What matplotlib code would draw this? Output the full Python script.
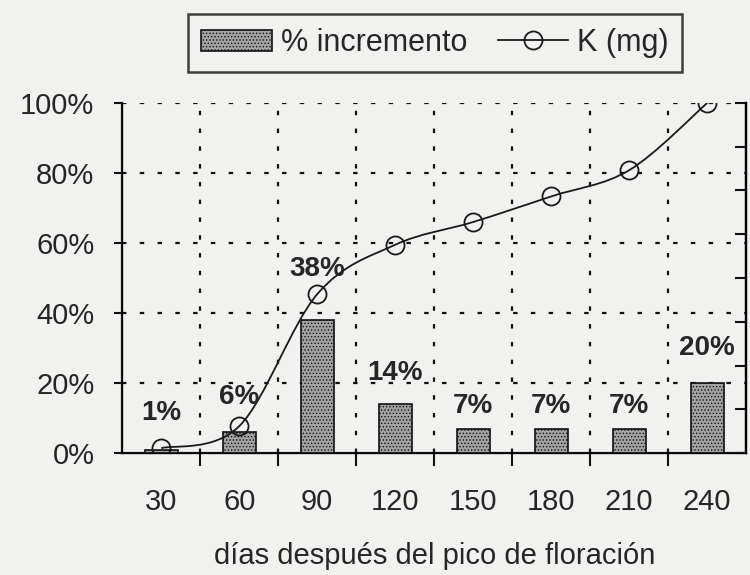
import numpy as np
import matplotlib.pyplot as plt
from matplotlib.path import Path
from matplotlib.patches import PathPatch
from matplotlib.lines import Line2D
from matplotlib.patches import Patch

plt.rcParams['font.family'] = ['Liberation Sans', 'DejaVu Sans']
plt.rcParams['hatch.color'] = '#5a5a5a'
plt.rcParams['hatch.linewidth'] = 0.6

dias = ['30', '60', '90', '120', '150', '180', '210', '240']
incremento = [1, 6, 38, 14, 7, 7, 7, 20]
k_mg = [1.4, 7.7, 45.4, 59.5, 66.0, 73.3, 80.8, 100.0]
bar_labels = ['1%', '6%', '38%', '14%', '7%', '7%', '7%', '20%']
label_dy = [10.5, 10, 14.5, 9, 6.5, 6.5, 6.5, 10]

bg = '#f1f1ef'
ink = '#262626'

fig = plt.figure(figsize=(7.5, 5.75), dpi=100, facecolor=bg)
ax = fig.add_axes([0.163, 0.212, 0.832, 0.609], facecolor=bg)

x = np.arange(len(dias))
ax.bar(x, incremento, width=0.42, color='#a3a3a3', edgecolor='#111111',
       linewidth=1.2, hatch='.....', zorder=3)

# smoothed line (bezier through the points, like the spreadsheet's smooth line)
px = np.concatenate([[x[0]], x, [x[-1]]]).astype(float)
py = np.concatenate([[k_mg[0]], k_mg, [k_mg[-1]]])
verts = [(x[0], k_mg[0])]
codes = [Path.MOVETO]
for i in range(1, len(px) - 2):
    c1 = (px[i] + (px[i + 1] - px[i - 1]) / 6, py[i] + (py[i + 1] - py[i - 1]) / 6)
    c2 = (px[i + 1] - (px[i + 2] - px[i]) / 6, py[i + 1] - (py[i + 2] - py[i]) / 6)
    verts += [c1, c2, (px[i + 1], py[i + 1])]
    codes += [Path.CURVE4] * 3
ax.add_patch(PathPatch(Path(verts, codes), facecolor='none', edgecolor='#1a1a1a',
                       linewidth=1.3, zorder=4))
ax.plot(x, k_mg, linestyle='none', marker='o', markersize=13, markerfacecolor='none',
        markeredgecolor='#1a1a1a', markeredgewidth=1.3, zorder=5)

for xi, v, lab, dy in zip(x, incremento, bar_labels, label_dy):
    ax.text(xi, v + dy, lab, ha='center', va='center', fontsize=20,
            fontweight='bold', color=ink, zorder=6)

ax.set_xlim(-0.5, len(dias) - 0.5)
ax.set_ylim(0, 100)
ax.set_yticks(range(0, 101, 20))
ax.set_yticklabels([f'{v}%' for v in range(0, 101, 20)])
ax.set_xticks(x)
ax.set_xticklabels(dias)
ax.set_xticks(x[:-1] + 0.5, minor=True)

ax.tick_params(axis='x', which='major', length=0, pad=25, labelsize=21, labelcolor=ink)
ax.tick_params(axis='x', which='minor', length=9, width=1.5, direction='out', color='#111111')
ax.tick_params(axis='y', length=6, width=1.5, direction='out', pad=14, labelsize=21,
               labelcolor=ink, color='#111111')

# dotted grid
for gx in x[:-1] + 0.5:
    ax.axvline(gx, color='#111111', linestyle=(0, (2, 6)), linewidth=1.6, zorder=1)
for gy in range(20, 101, 20):
    ax.axhline(gy, color='#111111', linestyle=(0, (2, 6)), linewidth=1.6, zorder=1)

ax.spines['top'].set_visible(False)
for s in ['left', 'bottom', 'right']:
    ax.spines[s].set_linewidth(1.6)
    ax.spines[s].set_color('#111111')

ax2 = ax.twinx()
ax2.set_ylim(0, 8)
ax2.set_yticks(range(0, 9))
ax2.tick_params(axis='y', direction='in', length=8, width=1.5, labelright=False, color='#111111')
ax2.spines['top'].set_visible(False)
ax2.spines['right'].set_linewidth(1.6)

ax.set_xlabel('días después del pico de floración', fontsize=21, color=ink, labelpad=19)

handles = [Patch(facecolor='#a3a3a3', edgecolor='#111111', hatch='.....', linewidth=1.2),
           Line2D([], [], color='#1a1a1a', linewidth=1.3, marker='o', markersize=13,
                  markerfacecolor='none', markeredgewidth=1.3)]
leg = fig.legend(handles, ['% incremento', 'K (mg)'], loc='center',
                 bbox_to_anchor=(0.58, 0.925), ncol=2, fontsize=22, frameon=True,
                 fancybox=False, edgecolor='#111111', facecolor=bg,
                 handlelength=2.3, handletextpad=0.3, columnspacing=1.0,
                 borderpad=0.45)
leg.get_frame().set_linewidth(1.8)
for t in leg.get_texts():
    t.set_color(ink)

fig.savefig('out.png', dpi=100, facecolor=bg)
